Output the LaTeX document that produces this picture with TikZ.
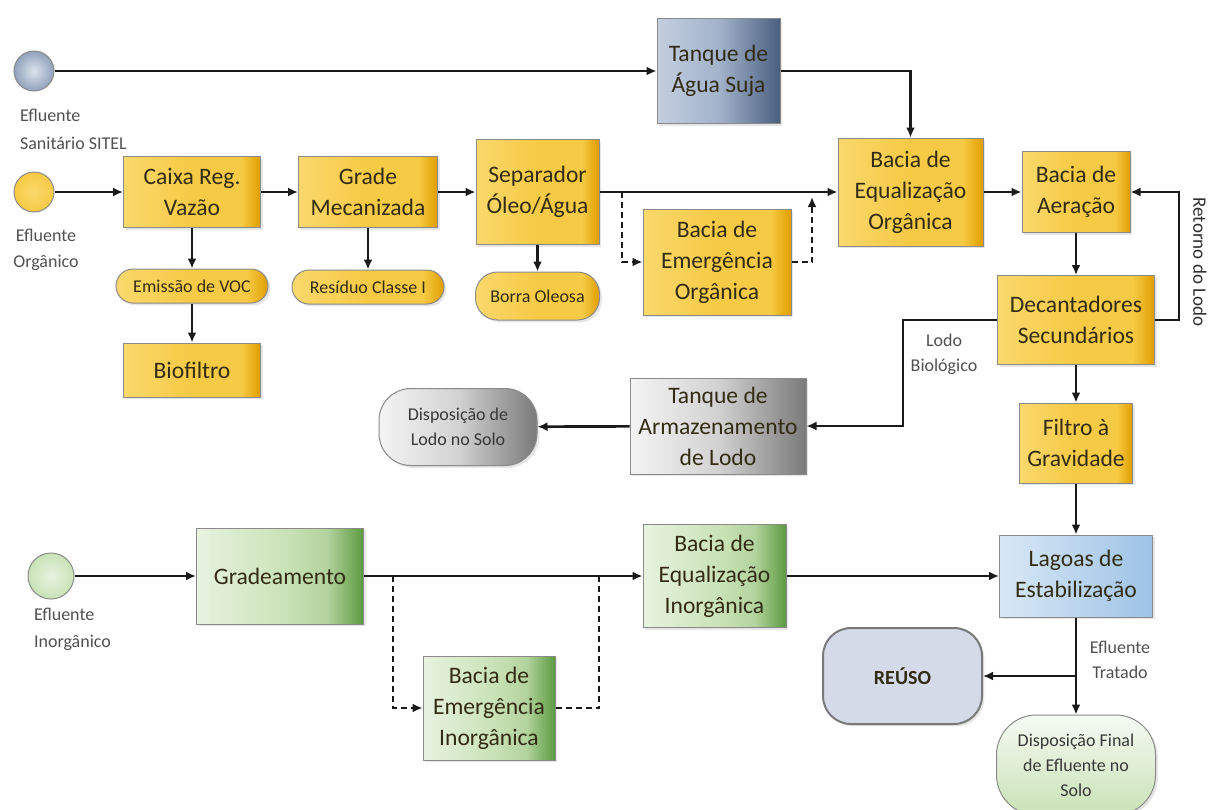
\documentclass[tikz,border=0pt]{standalone}
\usepackage{fontspec}
\setmainfont{Carlito}
\usetikzlibrary{shapes.geometric, arrows.meta, positioning, shadows}
\definecolor{ylwlight}{HTML}{FAD86C}
\definecolor{ylwmid}{HTML}{F7CA45}
\definecolor{ylwdark}{HTML}{E09E00}
\definecolor{grnlight}{HTML}{E8F3E0}
\definecolor{grnmid}{HTML}{C9E2B6}
\definecolor{grndark}{HTML}{5C9A40}
\definecolor{blulight}{HTML}{C3CEDF}
\definecolor{blumid}{HTML}{A3B3CB}
\definecolor{bludark}{HTML}{4A5F80}
\definecolor{grylight}{HTML}{F4F4F4}
\definecolor{grymid}{HTML}{D2D2D2}
\definecolor{grydark}{HTML}{7A7A7A}
\definecolor{lagoalight}{HTML}{D9E8F6}
\definecolor{lagoadark}{HTML}{9DC3E6}
\definecolor{reusofill}{HTML}{D5DAE8}
\definecolor{boxtext}{HTML}{332C14}
\definecolor{labeltext}{HTML}{505050}
\definecolor{edgegray}{HTML}{8A8A8A}
\definecolor{linedark}{HTML}{1A1A1A}
\pgfdeclarehorizontalshading{ylwshade}{100bp}{color(0bp)=(ylwlight); color(25bp)=(ylwlight);
  color(50bp)=(ylwmid); color(68bp)=(ylwmid); color(75bp)=(ylwdark); color(100bp)=(ylwdark)}
\pgfdeclarehorizontalshading{grnshade}{100bp}{color(0bp)=(grnlight); color(25bp)=(grnlight);
  color(52bp)=(grnmid); color(64bp)=(grnmid!80!grndark); color(75bp)=(grndark); color(100bp)=(grndark)}

\begin{document}
\begin{tikzpicture}[x=0.5pt, y=-0.5pt,
  box/.style={rectangle, draw=edgegray, line width=0.5pt, align=center, text=boxtext, inner sep=2pt,
    font=\fontsize{11.8}{15.5}\selectfont, drop shadow={opacity=0.2, shadow xshift=1.2pt, shadow yshift=-1.2pt}},
  ylwbox/.style={box, shade, shading=ylwshade},
  ylwpill/.style={ylwbox, rounded corners=8.5pt, font=\fontsize{9}{11}\selectfont},
  grnbox/.style={box, shade, shading=grnshade},
  blubox/.style={box, left color=blulight, right color=bludark, middle color=blumid},
  grybox/.style={box, left color=grylight, right color=grydark, middle color=grymid},
  lagoabox/.style={box, left color=lagoalight, right color=lagoadark},
  source/.style={circle, draw=edgegray, line width=0.5pt, minimum size=20pt},
  lbl/.style={align=center, text=labeltext, font=\fontsize{9}{13}\selectfont},
  flow/.style={draw=linedark, line width=1.35pt, -{Latex[length=5pt, width=4.5pt]}},
  dashflow/.style={flow, dash pattern=on 3pt off 2pt},
  dashline/.style={draw=linedark, line width=1.35pt, dash pattern=on 3pt off 2pt}]
\useasboundingbox (0,0) rectangle (1210,809);

% Entradas
\node[source, inner color=blulight!60, outer color=blumid!80!bludark] (sanit) at (34,71) {};
\node[lbl, anchor=west, align=left, font=\fontsize{9}{14}\selectfont] (sanitLbl) at (13,129) {Efluente\\Sanitário SITEL};
\node[source, inner color=ylwlight, outer color=ylwmid] (organ) at (34,192) {};
\node[lbl] (organLbl) at (46,250) {Efluente\\Orgânico};
\node[source, minimum size=23pt, inner color=grnlight, outer color=grnmid] (inorg) at (51,576) {};
\node[lbl, anchor=west, align=left, font=\fontsize{9}{13.5}\selectfont] (inorgLbl) at (27,629) {Efluente\\Inorgânico};

% Linha organica
\node[blubox, minimum width=61.5pt, minimum height=52.5pt] (tanqueSuja) at (718.5,71) {Tanque de\\Água Suja};
\node[ylwbox, minimum width=68.5pt, minimum height=35.5pt] (caixa) at (192,192) {Caixa Reg.\\Vazão};
\node[ylwbox, minimum width=69.5pt, minimum height=35.5pt] (grade) at (368,192) {Grade\\Mecanizada};
\node[ylwbox, minimum width=61.5pt, minimum height=52.5pt] (separador) at (537.5,192) {Separador\\Óleo/Água};
\node[ylwbox, minimum width=74pt, minimum height=53pt] (emergOrg) at (717,262) {Bacia de\\Emergência\\Orgânica};
\node[ylwbox, minimum width=72.5pt, minimum height=54pt] (equalOrg) at (910.5,192) {Bacia de\\Equalização\\Orgânica};
\node[ylwbox, minimum width=54pt, minimum height=40.5pt] (aeracao) at (1076,192) {Bacia de\\Aeração};
\node[ylwbox, minimum width=78.5pt, minimum height=44.5pt] (decant) at (1076,320) {Decantadores\\Secundários};
\node[ylwbox, minimum width=56.5pt, minimum height=40pt] (filtro) at (1076,443) {Filtro à\\Gravidade};
\node[lagoabox, minimum width=76.5pt, minimum height=41pt] (lagoas) at (1076,576) {Lagoas de\\Estabilização};

% Subprodutos
\node[ylwpill, minimum width=76pt, minimum height=17pt] (emissao) at (192,286) {Emissão de VOC};
\node[ylwbox, minimum width=68.5pt, minimum height=27pt] (biofiltro) at (192,370) {Biofiltro};
\node[ylwpill, minimum width=76pt, minimum height=17pt] (residuo) at (368,287) {Resíduo Classe I};
\node[ylwpill, minimum width=62pt, minimum height=24pt, rounded corners=11pt] (borra) at (537.5,296) {Borra Oleosa};

% Lodo
\node[grybox, minimum width=88pt, minimum height=48pt] (tanqueLodo) at (718,426) {Tanque de\\Armazenamento\\de Lodo};
\node[grybox, minimum width=79pt, minimum height=38.5pt, rounded corners=16pt, text=labeltext!70!black,
  font=\fontsize{9}{12.5}\selectfont] (dispLodo) at (458,427) {Disposição de\\Lodo no Solo};

% Linha inorganica
\node[grnbox, minimum width=83.5pt, minimum height=48pt] (gradeam) at (280,576) {Gradeamento};
\node[grnbox, minimum width=66pt, minimum height=52pt] (emergInorg) at (489,708) {Bacia de\\Emergência\\Inorgânica};
\node[grnbox, minimum width=71.5pt, minimum height=51.5pt] (equalInorg) at (714.5,576) {Bacia de\\Equalização\\Inorgânica};

% Destinos finais
\node[box, fill=reusofill, draw=grydark, line width=1pt, rounded corners=14pt, minimum width=79.5pt,
  minimum height=48pt, font=\fontsize{10}{12}\selectfont\bfseries] (reuso) at (902.5,676) {REÚSO};
\node[box, top color=grnlight!40, bottom color=grnmid, rounded corners=20pt, minimum width=79.5pt,
  minimum height=50pt, font=\fontsize{9}{12.5}\selectfont, text=labeltext!70!black] (dispFinal) at (1076,765) {Disposição Final\\de Efluente no\\Solo};

% Rotulos
\node[lbl, font=\fontsize{9}{12.5}\selectfont] (lodoLbl) at (944,354) {Lodo\\Biológico};
\node[lbl, rotate=-90, text=labeltext!60!black, font=\fontsize{9.5}{12}\selectfont] (retornoLbl) at (1200,262) {Retorno do Lodo};
\node[lbl, font=\fontsize{9}{12.5}\selectfont] (tratadoLbl) at (1120,660) {Efluente\\Tratado};

% Setas
\draw[flow] (sanit) -- (tanqueSuja);
\draw[flow] (tanqueSuja.east) -| (equalOrg.north);
\draw[flow] (organ) -- (caixa);
\draw[flow] (caixa) -- (grade);
\draw[flow] (grade) -- (separador);
\draw[flow] (separador) -- (equalOrg);
\coordinate (dashSplit) at (622,192);
\coordinate (dashJoin) at (812,197);
\draw[dashflow] (dashSplit) |- (emergOrg.west);
\draw[dashflow] (emergOrg.east) -| (dashJoin);
\draw[flow] (equalOrg) -- (aeracao);
\draw[flow] (aeracao) -- (decant);
\coordinate (retorno) at (1179,250);
\draw[flow] (decant.east) -| (retorno) |- (aeracao.east);
\coordinate (lodoBio) at (903,380);
\draw[flow] (decant.west) -| (lodoBio) |- (tanqueLodo.east);
\draw[flow] (tanqueLodo) -- (dispLodo);
\draw[flow] (decant) -- (filtro);
\draw[flow] (filtro) -- (lagoas);
\draw[flow] (lagoas) -- (dispFinal);
\coordinate (tratado) at (1076,676);
\draw[flow] (tratado) -- (reuso);
\draw[flow] (caixa) -- (emissao);
\draw[flow] (emissao) -- (biofiltro);
\draw[flow] (grade) -- (residuo);
\draw[flow] (separador) -- (borra);

\draw[flow] (inorg) -- (gradeam);
\draw[flow] (gradeam) -- (equalInorg);
\draw[flow] (equalInorg) -- (lagoas);
\coordinate (dashSplitB) at (393,576);
\coordinate (dashJoinB) at (599,576);
\draw[dashflow] (dashSplitB) |- (emergInorg.west);
\draw[dashline] (emergInorg.east) -| (dashJoinB);
\end{tikzpicture}
\end{document}
